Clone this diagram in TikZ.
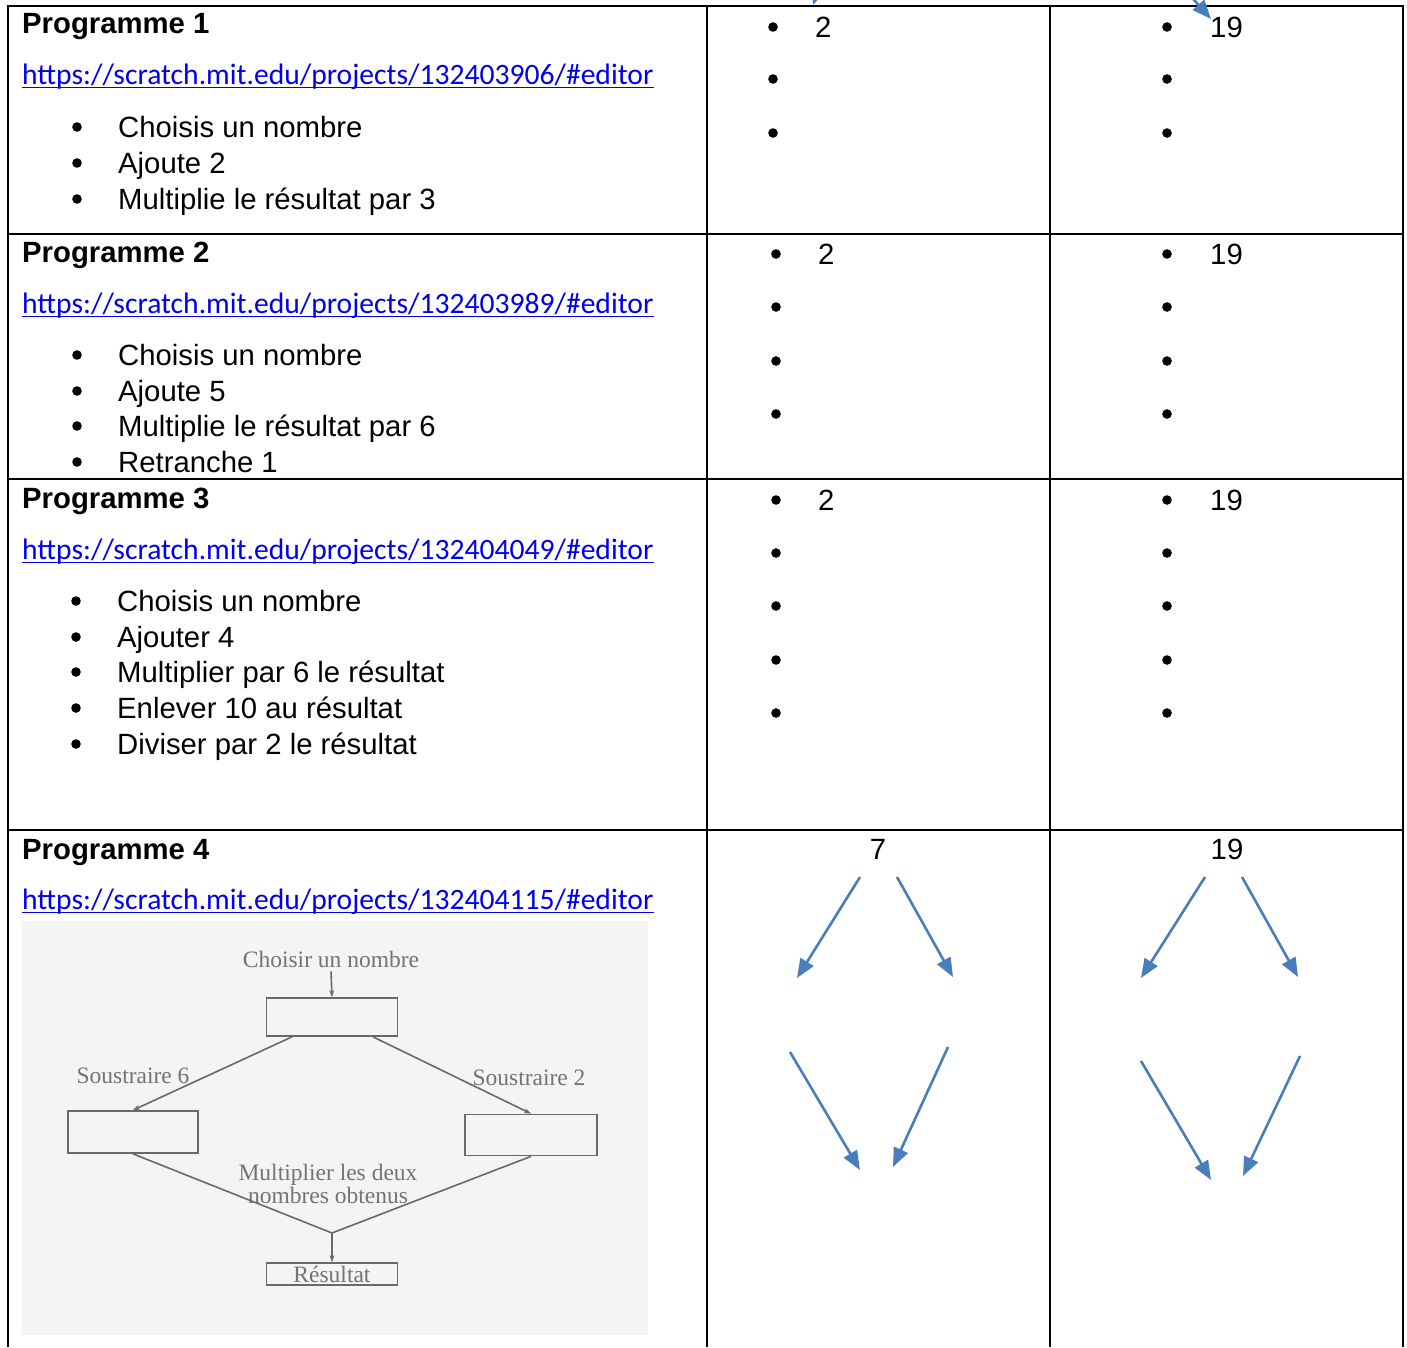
\documentclass[tikz,border=0pt]{standalone}
\usepackage{fontspec}
\setmainfont{Liberation Sans}
\newfontfamily\urlfont{Carlito}
\newfontfamily\scanfont{Liberation Serif}
\usetikzlibrary{arrows.meta,positioning}
\definecolor{linkblue}{RGB}{0,0,238}
\definecolor{arrowblue}{RGB}{74,126,187}
\definecolor{scantext}{RGB}{115,115,115}
\definecolor{scanline}{RGB}{105,105,105}
\definecolor{scanbg}{RGB}{244,244,244}
\tikzset{
  txt/.style={anchor=base west, inner sep=0pt, font=\fontsize{29.3}{35}\selectfont},
  hd/.style={txt, font=\fontsize{29.3}{35}\selectfont\bfseries},
  lnk/.style={txt, font=\fontsize{29.6}{35}\selectfont\urlfont, text=linkblue},
  tbl/.style={line width=2pt, black},
  bluearrow/.style={draw=arrowblue, line width=2.6pt, -{Triangle[length=19pt,width=15pt]}},
  fbox/.style={draw=scanline, line width=1.7pt, inner sep=0pt},
  fline/.style={draw=scanline, line width=1.6pt},
  farrow/.style={fline, -{Stealth[length=7pt,width=5pt]}},
  ftxt/.style={inner sep=0pt, text=scantext, font=\fontsize{23.5}{23}\selectfont\scanfont}
}
\begin{document}
\begin{tikzpicture}[x=1pt,y=-1pt]
\useasboundingbox (0,0) rectangle (1407,1347);
\draw[tbl] (8,1347) -- (8,6) -- (1403,6) -- (1403,1347);
\draw[tbl] (707,6) -- (707,1347);
\draw[tbl] (1050,6) -- (1050,1347);
\draw[tbl] (8,234) -- (1403,234);
\draw[tbl] (8,479) -- (1403,479);
\draw[tbl] (8,830) -- (1403,830);

\node[hd] (p1) at (22,33) {Programme 1};
\node[lnk] (u1) at (22,84) {https://scratch.mit.edu/projects/132403906/\#editor};
\node[txt] (p1a) at (118,137) {Choisis un nombre};
\node[txt] at ([yshift=-36pt]p1a.base west) (p1b) {Ajoute 2};
\node[txt] at ([yshift=-36pt]p1b.base west) (p1c) {Multiplie le résultat par 3};

\node[hd] (p2) at (22,262) {Programme 2};
\node[lnk] (u2) at (22,313) {https://scratch.mit.edu/projects/132403989/\#editor};
\node[txt] (p2a) at (118,365) {Choisis un nombre};
\node[txt] at ([yshift=-36pt]p2a.base west) (p2b) {Ajoute 5};
\node[txt] at ([yshift=-35pt]p2b.base west) (p2c) {Multiplie le résultat par 6};
\node[txt] at ([yshift=-36pt]p2c.base west) (p2d) {Retranche 1};

\node[hd] (p3) at (22,508) {Programme 3};
\node[lnk] (u3) at (22,559) {https://scratch.mit.edu/projects/132404049/\#editor};
\node[txt] (p3a) at (117,611) {Choisis un nombre};
\node[txt] at ([yshift=-36pt]p3a.base west) (p3b) {Ajouter 4};
\node[txt] at ([yshift=-35pt]p3b.base west) (p3c) {Multiplier par 6 le résultat};
\node[txt] at ([yshift=-36pt]p3c.base west) (p3d) {Enlever 10 au résultat};
\node[txt] at ([yshift=-36pt]p3d.base west) (p3e) {Diviser par 2 le résultat};

\node[hd] (p4) at (22,859) {Programme 4};
\node[lnk] (u4) at (22,909) {https://scratch.mit.edu/projects/132404115/\#editor};

\foreach \n in {u1,u2,u3,u4}
  \draw[linkblue, line width=1.6pt] ([yshift=-3.5pt]\n.base west) -- ([yshift=-3.5pt]\n.base east);
\foreach \n in {p1a,p1b,p1c,p2a,p2b,p2c,p2d,p3a,p3b,p3c,p3d,p3e}
  \fill ([xshift=-41pt,yshift=10pt]\n.base west) circle (4.8pt);

\node[txt] (r1a) at (815,37.5) {2};
\node[txt] (r1b) at (1210,37.5) {19};
\node[txt] (r2a) at (818,264) {2};
\node[txt] (r2b) at (1210,264) {19};
\node[txt] (r3a) at (818,510) {2};
\node[txt] (r3b) at (1210,510) {19};
\foreach \y in {27,79,133} {\fill (773,\y) circle (4.8pt); \fill (1167,\y) circle (4.8pt);}
\foreach \y in {254,307,361,414} {\fill (776,\y) circle (4.8pt); \fill (1167,\y) circle (4.8pt);}
\foreach \y in {500,553,606,660,713} {\fill (776,\y) circle (4.8pt); \fill (1167,\y) circle (4.8pt);}

\node[txt, anchor=base] (r4a) at (878,859) {7};
\node[txt, anchor=base] (r4b) at (1227,859) {19};

\foreach \n/\xa/\ya/\xb/\yb in {t1/830/-40/813/5, t2/1172/-25/1211/19,
  a1/860/877/797/978, a2/897/877/953/977, a3/790/1052/860/1170, a4/948/1047/893/1167,
  b1/1205/877/1141/978, b2/1242/877/1298/977, b3/1141/1061/1211/1180, b4/1300/1056/1243/1176} {
  \coordinate (\n s) at (\xa,\ya);
  \coordinate (\n e) at (\xb,\yb);
  \draw[bluearrow] (\n s) -- (\n e);
}

\fill[scanbg] (22,921) rectangle (648,1335);
\node[ftxt] (choose) at (331,959) {Choisir un nombre};
\node[fbox, minimum width=131pt, minimum height=38pt] (b0) at (332,1017) {};
\node[fbox, minimum width=130pt, minimum height=42pt] (b1) at (133,1132) {};
\node[fbox, minimum width=132pt, minimum height=41pt] (b2) at (531,1135) {};
\node[fbox, minimum width=131pt, minimum height=22pt] (res) at (332,1274) {\fontsize{23.5}{23}\selectfont\scanfont\color{scantext}Résultat};
\node[ftxt] (s6) at (133,1076) {Soustraire 6};
\node[ftxt] (s2) at (529,1078) {Soustraire 2};
\node[ftxt, align=center] (mult) at (328,1184) {Multiplier les deux\\nombres obtenus};
\coordinate (m) at (332,1233);
\draw[farrow] ([yshift=-4pt]choose.south) -- (b0.north);
\draw[farrow] ([xshift=-40pt]b0.south) -- (b1.north);
\draw[farrow] ([xshift=41pt]b0.south) -- (b2.north);
\draw[fline] (b1.south) -- (m);
\draw[fline] (b2.south) -- (m);
\draw[farrow] (m) -- (res.north);
\end{tikzpicture}
\end{document}
